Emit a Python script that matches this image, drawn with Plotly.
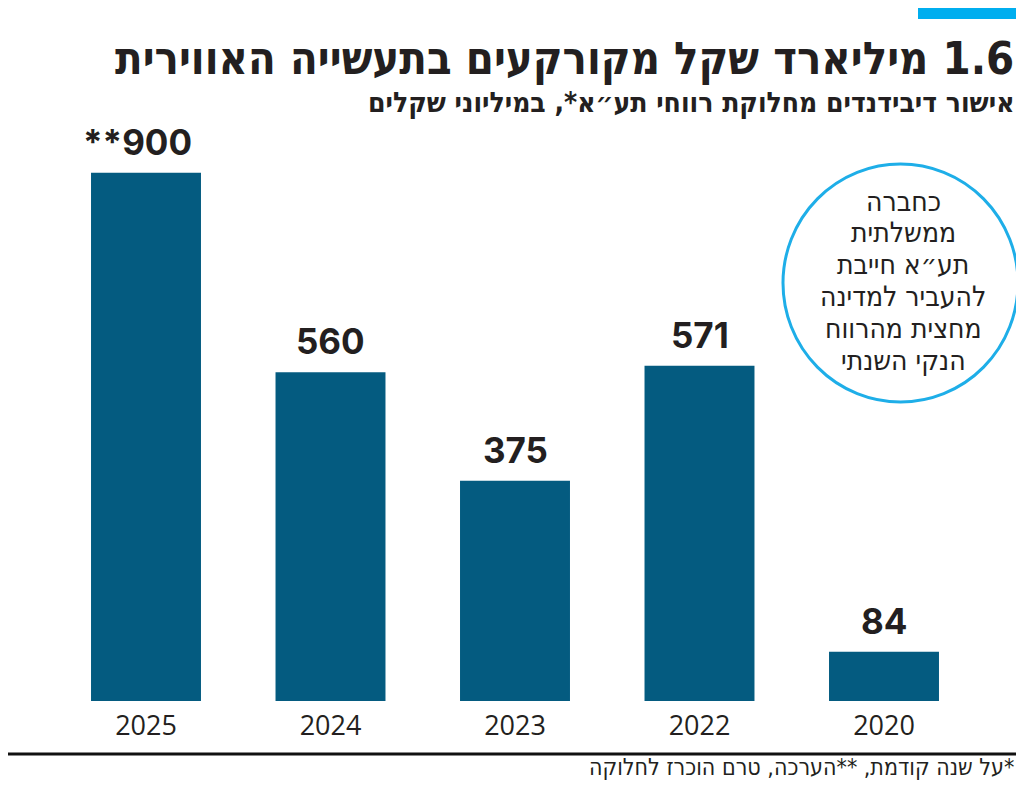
import plotly.graph_objects as go

# ---- data ----
years = ["2025", "2024", "2023", "2022", "2020"]
dividends = [900, 560, 375, 571, 84]          # millions of shekels
label_prefix = ["**", "", "", "", ""]        # ** = estimate

title_text = "1.6 מיליארד שקל מקורקעים בתעשייה האווירית"
subtitle_text = "אישור דיבידנדים מחלוקת רווחי תע״א*, במיליוני שקלים"
footnote_text = "*על שנה קודמת, **הערכה, טרם הוכרז לחלוקה"
circle_lines = ["כחברה", "ממשלתית", "תע״א חייבת", "להעביר למדינה", "מחצית מהרווח", "הנקי השנתי"]

# page body has an 8px margin; the figure is sized to fit inside the window
OFF = 8
W, H = 1024 - 2 * OFF, 789 - 2 * OFF
RLE, PDF = "\u202B", "\u202C"


def px(x):
    return (x - OFF) / W


def py(y):
    return 1 - (y - OFF) / H


BAR = "#045b80"
INK = "#231f20"
CYAN = "#00aeef"
HEB = "DejaVu Sans Condensed, DejaVu Sans, sans-serif"

fig = go.Figure(
    go.Bar(
        x=years,
        y=dividends,
        marker=dict(color=BAR, line=dict(width=0)),
        hoverinfo="skip",
    )
)

annotations = []
for i, (v, pre) in enumerate(zip(dividends, label_prefix)):
    annotations.append(dict(
        x=i, y=v, xref="x", yref="y", text=f"{pre}{v}", showarrow=False,
        xanchor="center", yanchor="bottom", yshift=8,
        xshift=-9 if pre else 0,
        font=dict(family="Inter, Lato, sans-serif", size=35, color=INK, weight="bold"),
    ))

# title / subtitle / footnote
annotations.append(dict(
    x=px(1016), y=py(30), xref="paper", yref="paper", xanchor="right", yanchor="top",
    text=RLE + title_text + PDF, showarrow=False,
    font=dict(family=HEB, size=45, color=INK, weight="bold"),
))
annotations.append(dict(
    x=px(1016), y=py(84), xref="paper", yref="paper", xanchor="right", yanchor="top",
    text=RLE + subtitle_text + PDF, showarrow=False,
    font=dict(family=HEB, size=28, color=INK, weight="bold"),
))
annotations.append(dict(
    x=px(1015), y=0, xref="paper", yref="paper", xanchor="right", yanchor="bottom",
    text=RLE + footnote_text + PDF, showarrow=False, borderpad=0,
    font=dict(family=HEB, size=23, color=INK),
))
for i, line in enumerate(circle_lines):
    annotations.append(dict(
        x=px(903), y=py(201 + i * 31.8), xref="paper", yref="paper",
        xanchor="center", yanchor="middle",
        text=RLE + line + PDF, showarrow=False,
        font=dict(family=HEB, size=28, color=INK),
    ))

shapes = [
    # cyan accent
    dict(type="rect", xref="paper", yref="paper", x0=px(918), x1=px(1016), y0=py(19), y1=py(5),
         fillcolor=CYAN, line=dict(width=0)),
    # bottom rule
    dict(type="rect", xref="paper", yref="paper", x0=px(3), x1=px(1020), y0=py(755.5), y1=py(752.5),
         fillcolor="#111111", line=dict(width=0)),
    # circle
    dict(type="circle", xref="paper", yref="paper", x0=px(783), x1=px(1018), y0=py(402), y1=py(164),
         line=dict(color="#1eaee8", width=3), fillcolor="rgba(0,0,0,0)"),
]

fig.update_layout(
    width=W, height=H,
    margin=dict(l=0, r=0, t=0, b=0),
    paper_bgcolor="white", plot_bgcolor="white",
    bargap=0.404,
    showlegend=False,
    xaxis=dict(
        type="category", range=[-0.5, len(years) - 0.5], autorange=False,
        domain=[px(53.75), px(976.25)],
        showgrid=False, zeroline=False, showline=False, ticks="",
        tickfont=dict(family="Open Sans, DejaVu Sans Condensed", size=27, color=INK),
        ticklabelstandoff=6,
    ),
    yaxis=dict(
        domain=[py(701), py(114)], range=[0, 1000], autorange=False,
        showgrid=False, zeroline=False, showline=False, showticklabels=False, ticks="",
    ),
    annotations=annotations,
    shapes=shapes,
)

fig.write_html("out.html")
